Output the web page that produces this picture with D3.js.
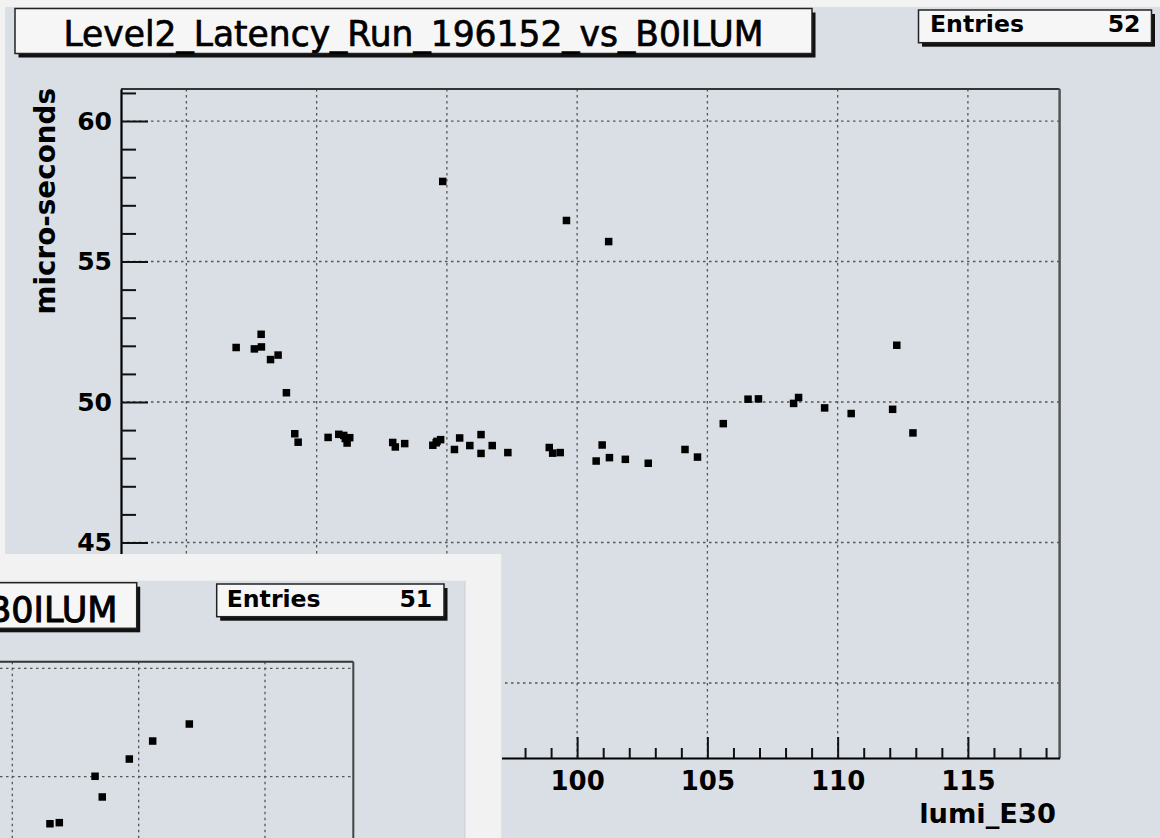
<!DOCTYPE html>
<html>
<head>
<meta charset="utf-8">
<script src="https://cdn.jsdelivr.net/npm/d3@7"></script>
<style>
  html, body { margin: 0; padding: 0; background: #f2f2f2; }
  svg { display: block; }
  text { font-family: "DejaVu Sans", sans-serif; fill: #000; }
</style>
</head>
<body>
<svg id="c" width="1160" height="838"></svg>
<script>
// ---- main graph: Level2 latency vs luminosity, run 196152 ----
const lumi = [
  86.91, 87.61, 87.88, 87.87, 88.23, 88.52, 88.84, 89.16, 89.29, 90.44,
  90.85, 91.04, 91.27, 91.17, 91.10, 92.92, 93.02, 93.38, 94.46, 94.59,
  94.76, 94.62, 95.29, 95.49, 95.88, 96.31, 96.31, 96.74, 97.34, 98.93,
  99.06, 99.35, 100.73, 100.96, 101.24, 101.85, 102.73, 104.14, 104.62, 105.61,
  106.56, 106.96, 108.31, 108.50, 109.50, 110.52, 112.11, 112.27, 112.89, 94.84,
  99.59, 101.21
];
const latency = [
  51.94, 51.89, 51.96, 52.41, 51.51, 51.67, 50.33, 48.87, 48.57, 48.74,
  48.85, 48.81, 48.73, 48.54, 48.70, 48.56, 48.40, 48.52, 48.46, 48.55,
  48.66, 48.60, 48.31, 48.72, 48.45, 48.84, 48.17, 48.45, 48.20, 48.38,
  48.18, 48.20, 47.90, 48.47, 48.02, 47.96, 47.82, 48.31, 48.04, 49.23,
  50.10, 50.11, 49.95, 50.16, 49.79, 49.59, 49.74, 52.02, 48.90, 57.85,
  56.46, 55.71
];
const xMajorTicks = [85, 90, 95, 100, 105, 110, 115];
const yMajorTicks = [40, 45, 50, 55, 60];
const xDomain = [82.49, 118.52];
const yDomain = [37.33, 61.14];
const mainTitle = "Level2_Latency_Run_196152_vs_B0ILUM";
const xTitle = "lumi_E30";
const yTitle = "micro-seconds";
const mainEntries = 52;

// ---- second canvas window (partly visible), in grid units ----
const otherX = [1.401, 1.111, 0.926, 0.655, 0.712, 0.298, 0.372];
const otherY = [0.486, 0.329, 0.163, 0.004, -0.187, -0.434, -0.424];
const otherGridX = [0, 1, 2];
const otherGridY = [0, 1];
const otherTitleTail = "B0ILUM";
const otherEntries = 51;

const svg = d3.select("#c");
const PAD = "#d9dfe5";
const GRID = { stroke: "#555", width: 1.3, dash: "2.5,3.5" };

// canvas pad
svg.append("rect").attr("x", 5).attr("y", 7).attr("width", 1155).attr("height", 831).attr("fill", PAD);

const x = d3.scaleLinear().domain(xDomain).range([121, 1059.6]);
const y = d3.scaleLinear().domain(yDomain).range([758, 89]);

const plot = svg.append("g");

// grid
plot.append("g").selectAll("line").data(xMajorTicks).join("line")
  .attr("x1", d => x(d)).attr("x2", d => x(d)).attr("y1", y.range()[1]).attr("y2", y.range()[0])
  .attr("stroke", GRID.stroke).attr("stroke-width", GRID.width).attr("stroke-dasharray", GRID.dash);
plot.append("g").selectAll("line").data(yMajorTicks).join("line")
  .attr("x1", x.range()[0]).attr("x2", x.range()[1]).attr("y1", d => y(d)).attr("y2", d => y(d))
  .attr("stroke", GRID.stroke).attr("stroke-width", GRID.width).attr("stroke-dasharray", GRID.dash);

// frame top / right
plot.append("line").attr("x1", 121).attr("x2", 1059.6).attr("y1", 89).attr("y2", 89)
  .attr("stroke", "#333").attr("stroke-width", 2);
plot.append("line").attr("x1", 1059.6).attr("x2", 1059.6).attr("y1", 89).attr("y2", 758)
  .attr("stroke", "#555").attr("stroke-width", 2.5);

// minor ticks every unit
const xMinor = d3.range(Math.ceil(xDomain[0]), Math.floor(xDomain[1]) + 1).filter(v => v % 5 !== 0);
const yMinor = d3.range(Math.ceil(yDomain[0]), Math.floor(yDomain[1]) + 1).filter(v => v % 5 !== 0);

function styleAxis(g) {
  g.select(".domain").attr("stroke", "#000").attr("stroke-width", 2.2);
  g.selectAll(".tick line").attr("stroke", "#111").attr("stroke-width", 2);
  g.selectAll("text").attr("font-family", "DejaVu Sans").attr("font-weight", "bold").attr("fill", "#000");
}

const xAxisG = plot.append("g").attr("transform", "translate(0,758)")
  .call(d3.axisBottom(x).tickValues(xMajorTicks).tickSizeInner(-21).tickSizeOuter(0).tickPadding(13.5)
    .tickFormat(d3.format("d")));
xAxisG.attr("font-size", 26);
styleAxis(xAxisG);
plot.append("g").attr("transform", "translate(0,758)")
  .call(d3.axisBottom(x).tickValues(xMinor).tickSizeInner(-10).tickSizeOuter(0).tickFormat(""))
  .call(g => { g.select(".domain").remove(); g.selectAll(".tick line").attr("stroke", "#111").attr("stroke-width", 2); });

const yAxisG = plot.append("g").attr("transform", "translate(121,0)")
  .call(d3.axisLeft(y).tickValues(yMajorTicks).tickSizeInner(-27).tickSizeOuter(0).tickPadding(9)
    .tickFormat(d3.format("d")));
yAxisG.attr("font-size", 25);
styleAxis(yAxisG);
plot.append("g").attr("transform", "translate(121,0)")
  .call(d3.axisLeft(y).tickValues(yMinor).tickSizeInner(-15).tickSizeOuter(0).tickFormat(""))
  .call(g => { g.select(".domain").remove(); g.selectAll(".tick line").attr("stroke", "#111").attr("stroke-width", 2); });

// axis titles
svg.append("text").attr("x", 1056).attr("y", 823).attr("text-anchor", "end")
  .attr("font-size", 27.3).attr("font-weight", "bold").text(xTitle);
svg.append("text").attr("transform", "translate(55,88) rotate(-90)").attr("text-anchor", "end")
  .attr("font-size", 27.8).attr("font-weight", "bold").text(yTitle);

// markers
const M = 7.5;
plot.append("g").selectAll("rect").data(lumi.map((v, i) => [v, latency[i]])).join("rect")
  .attr("x", d => x(d[0]) - M / 2).attr("y", d => y(d[1]) - M / 2)
  .attr("width", M).attr("height", M).attr("fill", "#000");

// boxes with drop shadow
function shadowBox(x0, y0, w, h) {
  svg.append("rect").attr("x", x0 + 3.5).attr("y", y0 + 4).attr("width", w).attr("height", h).attr("fill", "#111");
  svg.append("rect").attr("x", x0).attr("y", y0).attr("width", w).attr("height", h)
    .attr("fill", "#f6f6f6").attr("stroke", "#222").attr("stroke-width", 1.5);
}

// title
shadowBox(15, 8.5, 797, 45);
svg.append("text").attr("x", 413.5).attr("y", 45.7).attr("text-anchor", "middle")
  .attr("font-size", 35).attr("stroke", "#000").attr("stroke-width", 0.7)
  .attr("textLength", 700).attr("lengthAdjust", "spacingAndGlyphs").text(mainTitle);

// stats box
shadowBox(918.5, 10, 233, 32.7);
svg.append("text").attr("x", 930).attr("y", 32.3).attr("font-size", 23.6).attr("font-weight", "bold").text("Entries");
svg.append("text").attr("x", 1140.5).attr("y", 32.3).attr("text-anchor", "end")
  .attr("font-size", 23.6).attr("font-weight", "bold").text(mainEntries);

// ---- second window in front ----
const win = svg.append("g");
win.append("rect").attr("x", 0).attr("y", 554).attr("width", 501.5).attr("height", 284).attr("fill", "#f2f2f2");
win.append("line").attr("x1", 501.5).attr("x2", 501.5).attr("y1", 554).attr("y2", 838).attr("stroke", "#e2e2e2").attr("stroke-width", 1);
win.append("rect").attr("x", 0).attr("y", 580.7).attr("width", 465).attr("height", 258).attr("fill", PAD);
win.append("line").attr("x1", 465).attr("x2", 465).attr("y1", 580.7).attr("y2", 838).attr("stroke", "#c9ced4").attr("stroke-width", 1);

const xo = d3.scaleLinear().domain([0, 2]).range([12.3, 265]);
const yo = d3.scaleLinear().domain([0, 1]).range([776.7, 668.3]);
const oRight = 353.3, oTop = 661.7;

win.append("g").selectAll("line").data(otherGridX).join("line")
  .attr("x1", d => xo(d)).attr("x2", d => xo(d)).attr("y1", oTop).attr("y2", 838)
  .attr("stroke", GRID.stroke).attr("stroke-width", GRID.width).attr("stroke-dasharray", GRID.dash);
win.append("g").selectAll("line").data(otherGridY).join("line")
  .attr("x1", 0).attr("x2", oRight).attr("y1", d => yo(d)).attr("y2", d => yo(d))
  .attr("stroke", GRID.stroke).attr("stroke-width", GRID.width).attr("stroke-dasharray", GRID.dash);
win.append("line").attr("x1", 0).attr("x2", oRight).attr("y1", oTop).attr("y2", oTop).attr("stroke", "#333").attr("stroke-width", 2);
win.append("line").attr("x1", oRight).attr("x2", oRight).attr("y1", oTop).attr("y2", 838).attr("stroke", "#444").attr("stroke-width", 2);

win.append("g").selectAll("rect").data(otherX.map((v, i) => [v, otherY[i]])).join("rect")
  .attr("x", d => xo(d[0]) - M / 2).attr("y", d => yo(d[1]) - M / 2)
  .attr("width", M).attr("height", M).attr("fill", "#000");

// title box of the second window (runs off the left edge)
svg.append("rect").attr("x", -20 + 3.5).attr("y", 582.7 + 4).attr("width", 156.7).attr("height", 45.6).attr("fill", "#111");
svg.append("rect").attr("x", -20).attr("y", 582.7).attr("width", 156.7).attr("height", 45.6)
  .attr("fill", "#f6f6f6").attr("stroke", "#222").attr("stroke-width", 1.5);
svg.append("text").attr("x", 117.5).attr("y", 621.7).attr("text-anchor", "end")
  .attr("font-size", 35).attr("stroke", "#000").attr("stroke-width", 1).text(otherTitleTail);

shadowBox(216.7, 584, 227.3, 32.7);
svg.append("text").attr("x", 226.7).attr("y", 606.7).attr("font-size", 23.6).attr("font-weight", "bold").text("Entries");
svg.append("text").attr("x", 432.3).attr("y", 606.7).attr("text-anchor", "end")
  .attr("font-size", 23.6).attr("font-weight", "bold").text(otherEntries);
</script>
</body>
</html>
